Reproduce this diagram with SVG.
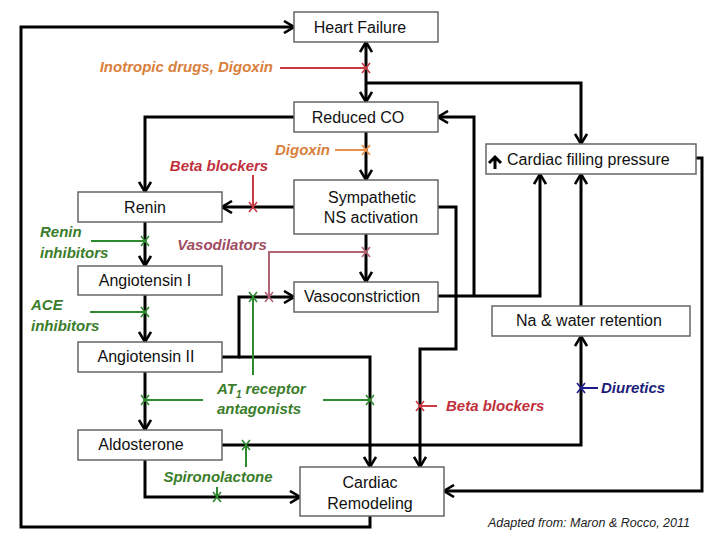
<svg xmlns="http://www.w3.org/2000/svg" width="720" height="540" viewBox="0 0 720 540">
<style>
.box{fill:#fff;stroke:#666;stroke-width:1.5}
.nt{font-family:"Liberation Sans",Arial,sans-serif;font-size:16px;fill:#111;text-anchor:middle}
.lb{font-family:"Liberation Sans",Arial,sans-serif;font-size:15px;font-weight:bold;font-style:italic}
.cn{fill:none;stroke:#000;stroke-width:3;stroke-linejoin:miter}
.ar{marker-end:url(#ah)}
.dl{fill:none;stroke-width:2}
.x{fill:none;stroke-width:1.6}
.red{stroke:#c83a44}.redt{fill:#c0303c}
.org{stroke:#e8904a}.orgt{fill:#d9803c}
.mau{stroke:#b06474}.maut{fill:#a04c60}
.grn{stroke:#2e8a2e}.grnt{fill:#3a7d2a}
.blu{stroke:#1c1c8c}.blut{fill:#1c1c7a}
</style>
<defs>
<marker id="ah" viewBox="0 0 12 14" refX="11" refY="7" markerWidth="12" markerHeight="14" markerUnits="userSpaceOnUse" orient="auto-start-reverse">
<path d="M1,1 L11,7 L1,13" fill="none" stroke="#000" stroke-width="2.6"/>
</marker>
<path id="xm" d="M-4,-5 L4,5 M4,-5 L-4,5"/>
</defs>
<rect width="720" height="540" fill="#fff"/>

<g id="connectors">
<path class="cn ar" d="M370,516 V527 H21 V27 H294"/>
<path class="cn ar" d="M366,42 V102" marker-start="url(#ah)"/>
<path class="cn ar" d="M366,83 H581 V144"/>
<path class="cn ar" d="M294,117 H145 V192"/>
<path class="cn ar" d="M366,132 V180"/>
<path class="cn ar" d="M294,207 H222"/>
<path class="cn ar" d="M366,234 V282"/>
<path class="cn ar" d="M222,357 H239 V297 H294"/>
<path class="cn ar" d="M239,357 H370 V467"/>
<path class="cn ar" d="M145,222 V266"/>
<path class="cn ar" d="M145,295 V342"/>
<path class="cn ar" d="M145,372 V430"/>
<path class="cn ar" d="M222,445 H581 V336"/>
<path class="cn ar" d="M145,460 V497 H300"/>
<path class="cn ar" d="M438,207 H456 V349 H420 V467"/>
<path class="cn ar" d="M438,296 H540 V174"/>
<path class="cn ar" d="M474,296 V117 H438"/>
<path class="cn ar" d="M581,306 V174"/>
<path class="cn ar" d="M696,158 H702 V491 H444"/>
</g>

<g id="drug-lines">
<path class="dl red" d="M280,68 H366"/>
<path class="dl org" d="M335,150 H366"/>
<path class="dl red" d="M253,175 V207"/>
<path class="dl mau" d="M366,252 H269 V297"/>
<path class="dl grn" d="M253,375 V297"/>
<path class="dl grn" d="M91,241 H145"/>
<path class="dl grn" d="M90,312 H145"/>
<path class="dl grn" d="M203,400 H145"/>
<path class="dl grn" d="M323,400 H370"/>
<path class="dl grn" d="M246,467 V445"/>
<path class="dl grn" d="M217,487 V497"/>
<path class="dl red" d="M437,406 H420"/>
<path class="dl blu" d="M598,388 H581"/>
<use href="#xm" class="x red" x="366" y="68"/>
<use href="#xm" class="x org" x="366" y="150"/>
<use href="#xm" class="x red" x="253" y="207"/>
<use href="#xm" class="x mau" x="366" y="252"/>
<use href="#xm" class="x mau" x="269" y="297"/>
<use href="#xm" class="x grn" x="253" y="297"/>
<use href="#xm" class="x grn" x="145" y="241"/>
<use href="#xm" class="x grn" x="145" y="312"/>
<use href="#xm" class="x grn" x="145" y="400"/>
<use href="#xm" class="x grn" x="370" y="400"/>
<use href="#xm" class="x grn" x="246" y="445"/>
<use href="#xm" class="x grn" x="217" y="497"/>
<use href="#xm" class="x red" x="420" y="406"/>
<use href="#xm" class="x blu" x="581" y="388"/>
</g>

<g id="node-heart-failure"><rect class="box" x="294" y="12" width="144" height="30"/><text class="nt" x="360" y="33">Heart Failure</text></g>
<g id="node-reduced-co"><rect class="box" x="294" y="102" width="144" height="30"/><text class="nt" x="358" y="123">Reduced CO</text></g>
<g id="node-sympathetic"><rect class="box" x="294" y="180" width="144" height="54"/><text class="nt" x="372" y="203">Sympathetic</text><text class="nt" x="371" y="223">NS activation</text></g>
<g id="node-vasoconstriction"><rect class="box" x="294" y="282" width="144" height="30"/><text class="nt" x="362" y="302">Vasoconstriction</text></g>
<g id="node-filling-pressure"><rect class="box" x="486" y="144" width="210" height="30"/><path d="M495,169 V158 M489,163 L495,157 L501,163" fill="none" stroke="#000" stroke-width="3"/><text class="nt" x="507" y="165" style="text-anchor:start">Cardiac filling pressure</text></g>
<g id="node-na-water"><rect class="box" x="492" y="306" width="198" height="30"/><text class="nt" x="589" y="326">Na &amp; water retention</text></g>
<g id="node-renin"><rect class="box" x="78" y="192" width="144" height="30"/><text class="nt" x="145" y="213">Renin</text></g>
<g id="node-angiotensin-1"><rect class="box" x="78" y="266" width="144" height="29"/><text class="nt" x="145" y="286">Angiotensin I</text></g>
<g id="node-angiotensin-2"><rect class="box" x="78" y="342" width="144" height="30"/><text class="nt" x="146" y="362">Angiotensin II</text></g>
<g id="node-aldosterone"><rect class="box" x="78" y="430" width="144" height="30"/><text class="nt" x="141" y="450">Aldosterone</text></g>
<g id="node-remodeling"><rect class="box" x="300" y="467" width="144" height="49"/><text class="nt" x="370" y="488">Cardiac</text><text class="nt" x="370" y="509">Remodeling</text></g>

<g id="labels">
<text class="lb orgt" x="273" y="72" text-anchor="end">Inotropic drugs, Digoxin</text>
<text class="lb orgt" x="330" y="155" text-anchor="end">Digoxin</text>
<text class="lb redt" x="219" y="171" text-anchor="middle">Beta blockers</text>
<text class="lb maut" x="222" y="250" text-anchor="middle">Vasodilators</text>
<text class="lb grnt" x="40" y="237">Renin</text>
<text class="lb grnt" x="40" y="258">inhibitors</text>
<text class="lb grnt" x="31" y="310">ACE</text>
<text class="lb grnt" x="31" y="331">inhibitors</text>
<text class="lb grnt" x="217" y="394">AT<tspan font-size="10" dy="4">1</tspan><tspan dy="-4"> receptor</tspan></text>
<text class="lb grnt" x="217" y="414">antagonists</text>
<text class="lb grnt" x="218" y="482" text-anchor="middle">Spironolactone</text>
<text class="lb redt" x="446" y="411">Beta blockers</text>
<text class="lb blut" x="601" y="393">Diuretics</text>
<text x="488" y="527" font-family="'Liberation Sans',Arial,sans-serif" font-size="12.5" font-style="italic" fill="#222">Adapted from: Maron &amp; Rocco, 2011</text>
</g>
</svg>
